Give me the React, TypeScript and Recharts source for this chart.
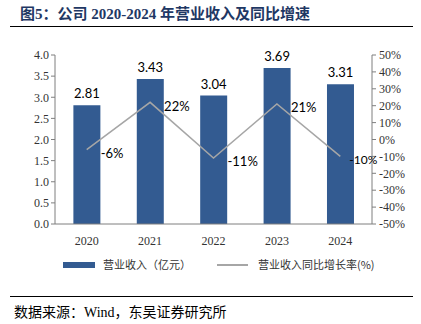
import React from "react";
import {
  ComposedChart,
  Bar,
  Line,
  XAxis,
  YAxis,
  LabelList,
} from "recharts";

// chart data
const years = ["2020", "2021", "2022", "2023", "2024"];
const revenue = [2.81, 3.43, 3.04, 3.69, 3.31];
const growth = [-6, 22, -11, 21, -10];
const leftTicks = [0, 0.5, 1, 1.5, 2, 2.5, 3, 3.5, 4];
const rightTicks = [-50, -40, -30, -20, -10, 0, 10, 20, 30, 40, 50];

const BAR_COLOR = "#335B91";
const LINE_COLOR = "#A6A6A6";
const SERIF = "'Liberation Serif', 'Noto Sans CJK SC', serif";
const CJK = "'Noto Sans CJK SC', sans-serif";
const LABEL_FONT = "Lato, 'Open Sans', sans-serif";

const data = years.map((y, i) => ({
  year: y,
  revenue: revenue[i],
  growth: growth[i],
}));

const GrowthLabel = (props: any) => {
  const { x, y, value, index } = props;
  // last label sits against the right axis, keep it clear of the tick text
  const last = index === years.length - 1;
  return (
    <text
      x={x + (last ? 9 : 14)}
      y={y + 5}
      fontSize={last ? 12 : 13}
      fontFamily={LABEL_FONT}
      fill="#000"
      dominantBaseline="middle"
    >
      {value}%
    </text>
  );
};

const App = () => {
  return (
    <div
      style={{
        position: "absolute",
        left: 0,
        top: 0,
        width: 421,
        height: 324,
        background: "#fff",
        overflow: "hidden",
      }}
    >
      <div
        style={{
          position: "absolute",
          left: 20,
          top: 2,
          fontFamily: SERIF,
          fontWeight: "bold",
          fontSize: 15,
          color: "#1F3864",
          whiteSpace: "nowrap",
        }}
      >
        图5：公司 2020-2024 年营业收入及同比增速
      </div>
      <div
        style={{
          position: "absolute",
          left: 10,
          top: 26,
          width: 403,
          height: 1,
          background: "#000",
        }}
      />

      <div style={{ position: "absolute", left: 0, top: 0 }}>
        <ComposedChart
          width={421}
          height={290}
          data={data}
          margin={{ top: 55, right: 4, bottom: 36, left: 10 }}
          barCategoryGap="29%"
        >
          <XAxis
            dataKey="year"
            height={30}
            axisLine={{ stroke: "#7f7f7f" }}
            tickLine={false}
            tick={{ fontSize: 12, fontFamily: SERIF, fill: "#333" }}
            tickMargin={6}
          />
          <YAxis
            yAxisId="left"
            width={45}
            domain={[0, 4]}
            ticks={leftTicks}
            interval={0}
            tickFormatter={(v: number) => v.toFixed(1)}
            axisLine={{ stroke: "#7f7f7f" }}
            tickLine={{ stroke: "#7f7f7f" }}
            tickSize={4}
            tick={{ fontSize: 12, fontFamily: SERIF, fill: "#333" }}
          />
          <YAxis
            yAxisId="right"
            orientation="right"
            width={45}
            domain={[-50, 50]}
            ticks={rightTicks}
            interval={0}
            tickFormatter={(v: number) => `${v}%`}
            axisLine={{ stroke: "#7f7f7f" }}
            tickLine={{ stroke: "#7f7f7f" }}
            tickSize={4}
            tickMargin={3}
            tick={{ fontSize: 12, fontFamily: SERIF, fill: "#333" }}
          />
          <Bar
            yAxisId="left"
            dataKey="revenue"
            fill={BAR_COLOR}
            isAnimationActive={false}
          >
            <LabelList
              dataKey="revenue"
              position="top"
              offset={7}
              formatter={(v: any) => Number(v).toFixed(2)}
              style={{ fontSize: 13, fontFamily: LABEL_FONT, fill: "#000" }}
            />
          </Bar>
          <Line
            yAxisId="right"
            dataKey="growth"
            stroke={LINE_COLOR}
            strokeWidth={1.5}
            dot={false}
            type="linear"
            isAnimationActive={false}
          >
            <LabelList dataKey="growth" content={GrowthLabel} />
          </Line>
        </ComposedChart>
      </div>

      {/* legend */}
      <div
        style={{
          position: "absolute",
          left: 63,
          top: 262,
          width: 32,
          height: 6,
          background: BAR_COLOR,
        }}
      />
      <div
        style={{
          position: "absolute",
          left: 103,
          top: 256,
          fontFamily: CJK,
          fontSize: 11,
          color: "#333",
          whiteSpace: "nowrap",
        }}
      >
        营业收入（亿元）
      </div>
      <div
        style={{
          position: "absolute",
          left: 217,
          top: 264,
          width: 31,
          height: 2,
          background: LINE_COLOR,
        }}
      />
      <div
        style={{
          position: "absolute",
          left: 258,
          top: 256,
          fontFamily: CJK,
          fontSize: 11,
          color: "#333",
          whiteSpace: "nowrap",
        }}
      >
        营业收入同比增长率(%)
      </div>

      {/* source */}
      <div
        style={{
          position: "absolute",
          left: 10,
          top: 296,
          width: 403,
          height: 1,
          background: "#000",
        }}
      />
      <div
        style={{
          position: "absolute",
          left: 14,
          top: 301,
          fontFamily: SERIF,
          fontSize: 14,
          color: "#000",
          whiteSpace: "nowrap",
        }}
      >
        数据来源：Wind，东吴证券研究所
      </div>
    </div>
  );
};

export default App;
